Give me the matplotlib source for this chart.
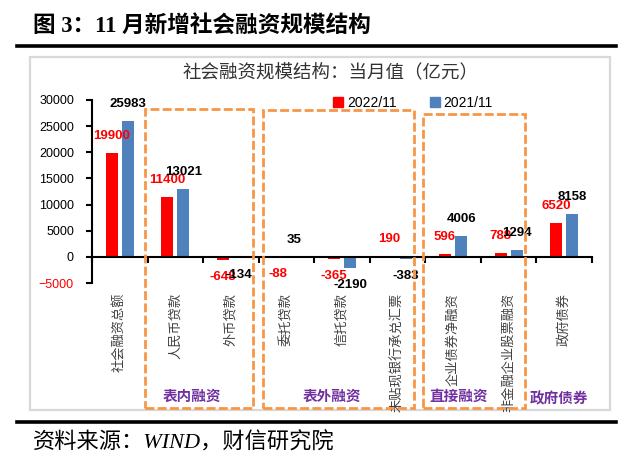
import numpy as np
import matplotlib.pyplot as plt
from matplotlib.patches import Rectangle, Patch
from matplotlib.lines import Line2D

plt.rcParams['font.family'] = ['Liberation Sans', 'Noto Sans CJK SC']

categories = ['社会融资总额', '人民币贷款', '外币贷款', '委托贷款', '信托贷款',
              '未贴现银行承兑汇票', '企业债券净融资', '非金融企业股票融资', '政府债券']
v2022 = [19900, 11400, -648, -88, -365, 190, 596, 788, 6520]
v2021 = [25983, 13021, -134, 35, -2190, -383, 4006, 1294, 8158]
series_names = ['2022/11', '2021/11']
groups = ['表内融资', '表外融资', '直接融资', '政府债券']
yticks = np.arange(-5000, 30001, 5000)

RED = '#FF0000'
BLUE = '#4F81BD'
ORANGE = '#F79646'
PURPLE = '#7030A0'

W, H = 638, 462
fig = plt.figure(figsize=(W / 100, H / 100), dpi=100)


def fx(px):
    return px / W


def fy(py):
    return 1 - py / H


# chart frame
fig.add_artist(Rectangle((fx(30), fy(410)), fx(610) - fx(30), fy(57) - fy(410),
                         transform=fig.transFigure, fill=False,
                         edgecolor='#D9D9D9', lw=1.6, zorder=-1))
for py in (46, 422):
    fig.add_artist(Line2D([fx(17), fx(616)], [fy(py), fy(py)], color='black', lw=2.6))

fig.text(fx(33), fy(27), '图 3：11 月新增社会融资规模结构', fontsize=16.3, fontweight='bold',
         ha='left', va='center', family=['Liberation Serif', 'Noto Sans CJK SC'])
fig.text(fx(33), fy(443), '资料来源：WIND，财信研究院', fontsize=16, style='italic',
         ha='left', va='center', family=['Liberation Serif', 'Noto Sans CJK SC'])
fig.text(fx(331), fy(73), '社会融资规模结构：当月值（亿元）', fontsize=13.3,
         ha='center', va='center', color='#333333')

ax = fig.add_axes([fx(92), fy(283), fx(592) - fx(92), fy(100) - fy(283)])
ax.patch.set_alpha(0)
x = np.arange(len(categories)) + 0.5
bw = 0.215
off = 0.145
ax.bar(x - off, v2022, bw, color=RED)
ax.bar(x + off, v2021, bw, color=BLUE)
ax.set_xlim(0, len(categories))
ax.set_ylim(-5000, 30000)
ax.set_yticks(yticks)
ax.set_xticks(np.arange(len(categories) + 1))
ax.set_xticklabels([])
ax.spines['bottom'].set_position(('data', 0))
ax.spines['right'].set_visible(False)
ax.spines['top'].set_visible(False)
ax.spines['left'].set_linewidth(1.5)
ax.spines['bottom'].set_linewidth(1.5)
ax.tick_params(axis='y', direction='out', length=4, width=1.5, labelsize=9, pad=9)
ax.tick_params(axis='x', direction='out', length=4, width=1.5)
for lbl, v in zip(ax.get_yticklabels(), yticks):
    lbl.set_color(RED if v < 0 else 'black')

for xs, vals, col in ((x - off, v2022, RED), (x + off, v2021, 'black')):
    for xi, v in zip(xs, vals):
        ax.annotate(f'{v}', (xi, v), xytext=(0, 17 if v >= 0 else -17),
                    textcoords='offset pixels', ha='center', va='center',
                    color=col, fontsize=9.5, fontweight='bold', annotation_clip=False)

for xi, c in zip(x, categories):
    ax.annotate(c, (xi, -5000), xytext=(0, -10), textcoords='offset pixels',
                rotation=90, ha='center', va='top', fontsize=9.5, color='#404040',
                annotation_clip=False)

# group boxes and names
boxes = [(145, 109, 253, 408), (263, 110, 414, 408), (423, 114, 525, 408)]
for x0, y0, x1, y1 in boxes:
    fig.add_artist(Rectangle((fx(x0), fy(y1)), fx(x1) - fx(x0), fy(y0) - fy(y1),
                             transform=fig.transFigure, fill=False, edgecolor=ORANGE,
                             lw=2, linestyle=(0, (3.2, 1.2)), zorder=5))
for name, (gx, gy) in zip(groups, [(192, 397), (332, 397), (459, 397), (559, 399)]):
    fig.text(fx(gx), fy(gy), name, fontsize=10.5, fontweight='bold', color=PURPLE,
             ha='center', va='center')

handles = [Patch(color=RED), Patch(color=BLUE)]
fig.legend(handles, series_names, loc='center', bbox_to_anchor=(fx(413), fy(103)),
           ncol=2, frameon=False, fontsize=10, handlelength=0.7, handleheight=0.7,
           handletextpad=0.3, columnspacing=2.4)

fig.savefig('out.png', dpi=100)
